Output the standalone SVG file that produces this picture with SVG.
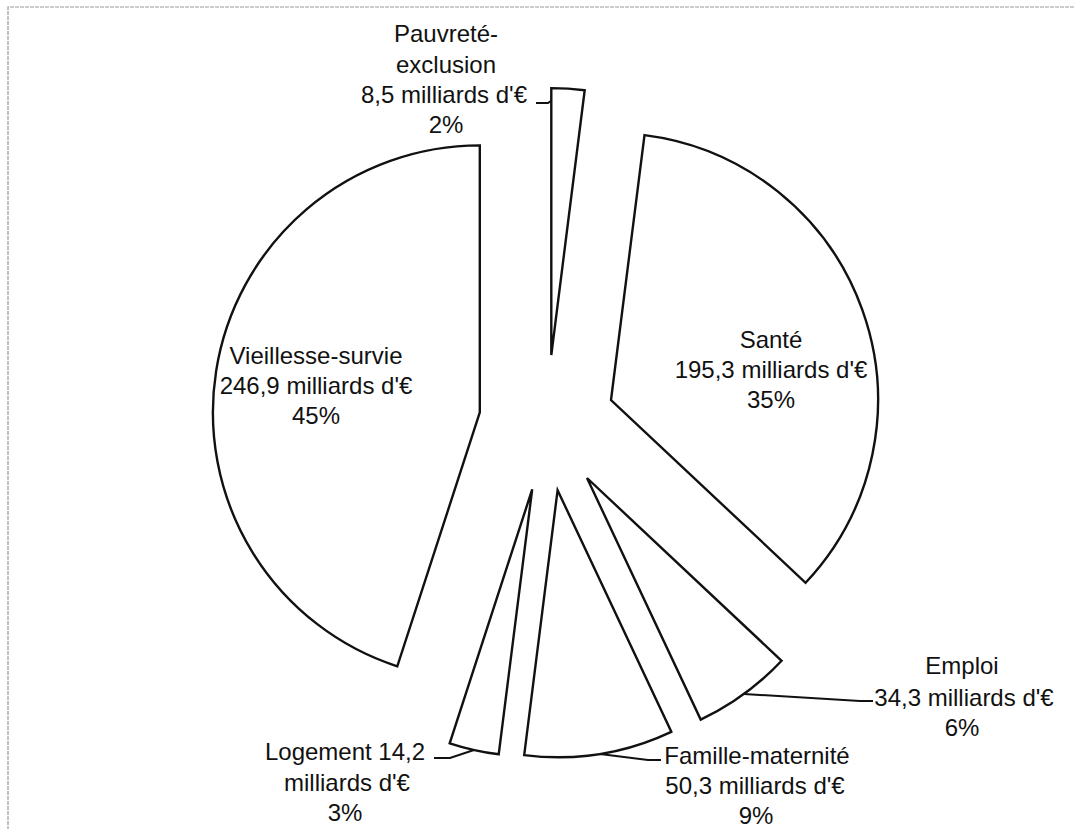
<svg xmlns="http://www.w3.org/2000/svg" width="1075" height="829" viewBox="0 0 1075 829">
<style>
.w{fill:#fff;stroke:#111;stroke-width:2.4;stroke-linejoin:miter}
.ld{fill:none;stroke:#111;stroke-width:2}
.t{font-family:"Liberation Sans",Arial,sans-serif;font-size:24px;fill:#111;text-anchor:middle}
.frame{fill:none;stroke:#9a9a9a;stroke-width:1.2;stroke-dasharray:4 1}
</style>
<rect width="1075" height="829" fill="#fff"/>
<path class="frame" d="M8 840 L8 7 L1080 7"/>
<g id="connectors">
<path class="ld" d="M536 103 L548 103 L568 89"/>
<path class="ld" d="M744 694 L860 701 L873 701"/>
<path class="ld" d="M600 754 L648 760 L661 760"/>
<path class="ld" d="M474 750 L450 758 L434 758"/>
</g>
<g id="pauvrete">
<path class="w" d="M551.3 355.1 L551.3 88.1 A267 267 0 0 1 584.7 90.2 Z"/>
<text class="t" x="446" y="42">Pauvreté-</text>
<text class="t" x="446" y="73">exclusion</text>
<text class="t" x="444" y="103">8,5 milliards d'€</text>
<text class="t" x="446" y="133">2%</text>
</g>
<g id="sante">
<path class="w" d="M611 400 L644.5 135.1 A267 267 0 0 1 805.6 582.8 Z"/>
<text class="t" x="771" y="348">Santé</text>
<text class="t" x="771" y="378">195,3 milliards d'€</text>
<text class="t" x="771" y="408">35%</text>
</g>
<g id="emploi">
<path class="w" d="M587 478 L781.6 660.8 A267 267 0 0 1 700.7 719.6 Z"/>
<text class="t" x="962" y="674">Emploi</text>
<text class="t" x="964" y="706">34,3 milliards d'€</text>
<text class="t" x="962" y="736">6%</text>
</g>
<g id="famille">
<path class="w" d="M557.6 490.2 L671.3 731.8 A267 267 0 0 1 524.2 755.1 Z"/>
<text class="t" x="757" y="764">Famille-maternité</text>
<text class="t" x="755" y="794">50,3 milliards d'€</text>
<text class="t" x="756" y="824">9%</text>
</g>
<g id="logement">
<path class="w" d="M532.2 489.4 L498.7 754.3 A267 267 0 0 1 449.7 743.3 Z"/>
<text class="t" x="345" y="760">Logement 14,2</text>
<text class="t" x="347" y="791">milliards d'€</text>
<text class="t" x="345" y="821">3%</text>
</g>
<g id="vieillesse">
<path class="w" d="M479.8 412.4 L397.3 666.3 A267 267 0 0 1 479.8 145.4 Z"/>
<text class="t" x="316" y="364">Vieillesse-survie</text>
<text class="t" x="316" y="394">246,9 milliards d'€</text>
<text class="t" x="316" y="424">45%</text>
</g>
</svg>
